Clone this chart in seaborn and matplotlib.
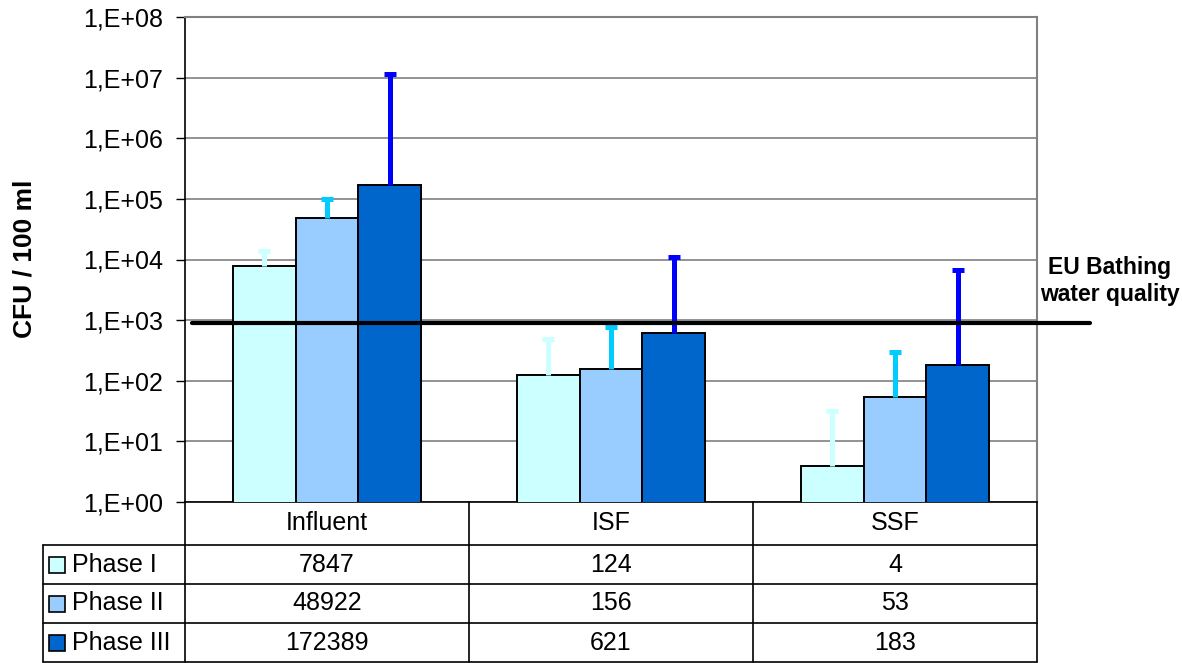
"""
Faecal indicator counts per treatment stage and phase, log scale with data table.
"""

import numpy as np
import pandas as pd
import matplotlib
matplotlib.use("Agg")
import matplotlib.pyplot as plt
from matplotlib.patches import Rectangle
from matplotlib.ticker import FixedLocator, FuncFormatter, NullLocator
import seaborn as sns


# ──────────────────────────────────────────────
# Data
# ──────────────────────────────────────────────

sites = ["Influent", "ISF", "SSF"]
phases = ["Phase I", "Phase II", "Phase III"]

phase1_cfu = [7847, 124, 4]
phase2_cfu = [48922, 156, 53]
phase3_cfu = [172389, 621, 183]

# upper end of the error bars
phase1_upper = [14000, 490, 32]
phase2_upper = [100000, 780, 300]
phase3_upper = [11500000, 11200, 6600]

eu_limit = 900
y_ticks = [10.0 ** k for k in range(0, 9)]

bar_colors = ["#CCFFFF", "#99CCFF", "#0066CC"]
err_colors = ["#CCFFFF", "#00CCFF", "#0000FF"]

values = [phase1_cfu, phase2_cfu, phase3_cfu]
uppers = [phase1_upper, phase2_upper, phase3_upper]

df = pd.DataFrame({
    "site": sites * len(phases),
    "phase": [p for p in phases for _ in sites],
    "cfu": phase1_cfu + phase2_cfu + phase3_cfu,
})


# ──────────────────────────────────────────────
# Figure
# ──────────────────────────────────────────────

sns.set_style("white")
plt.rcParams["font.family"] = ["Liberation Sans", "DejaVu Sans"]
plt.rcParams.update({"text.color": "black", "ytick.color": "black",
                     "xtick.color": "black", "axes.labelcolor": "black"})

W, H = 1182, 663
fig = plt.figure(figsize=(W / 100, H / 100), dpi=100)

# plot area in pixel coords: x 185..1037, y 17..502
ax = fig.add_axes([185 / W, (H - 502) / H, 852 / W, 485 / H])
ax.set_yscale("log")

sns.barplot(data=df, x="site", y="cfu", hue="phase", palette=bar_colors,
            saturation=1, width=0.665, gap=0, edgecolor="black", linewidth=1.4,
            errorbar=None, legend=False, ax=ax, zorder=3)

bar_containers = list(ax.containers)
for i, cont in enumerate(bar_containers):
    xs = [p.get_x() + p.get_width() / 2 for p in cont]
    ys = np.array(values[i], dtype=float)
    up = np.array(uppers[i], dtype=float) - ys
    eb = ax.errorbar(xs, ys, yerr=[np.zeros_like(ys), up], fmt="none",
                     ecolor=err_colors[i], elinewidth=3.6, capsize=4.5,
                     capthick=3.6, zorder=4)
    # only the upper cap is shown
    eb[1][0].set_visible(False)

ax.set_ylim(1, 1e8)
ax.set_xlim(-0.5, 2.5)
ax.yaxis.set_major_locator(FixedLocator(y_ticks))
ax.yaxis.set_minor_locator(NullLocator())
ax.yaxis.set_major_formatter(FuncFormatter(lambda v, _: "1,E+%02d" % round(np.log10(v))))
ax.tick_params(axis="y", which="major", left=True, length=6.5, width=1, pad=9,
               labelsize=18, color="black", labelcolor="black")
ax.tick_params(axis="x", bottom=False, labelbottom=False)
ax.set_xlabel("")
ax.set_ylabel("")
ax.grid(axis="y", color="#808080", linewidth=1.2, zorder=0)
ax.set_axisbelow(True)

for side in ["top", "right"]:
    ax.spines[side].set_color("#808080")
    ax.spines[side].set_linewidth(1.5)
ax.spines["left"].set_color("black")
ax.spines["left"].set_linewidth(1.2)
ax.spines["bottom"].set_color("black")
ax.spines["bottom"].set_linewidth(1.2)

# EU bathing water quality line
ax.plot([0.008, 1.062], [eu_limit, eu_limit], color="black", linewidth=3,
        transform=ax.get_yaxis_transform(), clip_on=False, zorder=5)
fig.text(1110 / W, 1 - 281 / H, "EU Bathing\nwater quality", ha="center",
         va="center", fontsize=16.5, fontweight="bold", linespacing=1.25)

fig.text(25 / W, 1 - 259 / H, "CFU / 100 ml", rotation=90, ha="center",
         va="center", fontsize=19, fontweight="bold")


# ──────────────────────────────────────────────
# Data table
# ──────────────────────────────────────────────

tab = fig.add_axes([0, 0, 1, 1])
tab.set_xlim(0, W)
tab.set_ylim(H, 0)
tab.axis("off")

col_edges = [185, 469, 753, 1037]
row_edges = [502, 545, 584, 623, 662]
line_kw = dict(color="black", linewidth=1.2, clip_on=False)

for x in col_edges:
    tab.plot([x, x], [row_edges[0], row_edges[-1]], **line_kw)
tab.plot([43, 43], [row_edges[1], row_edges[-1]], **line_kw)
for y in row_edges[1:]:
    tab.plot([43, col_edges[-1]], [y, y], **line_kw)

for j, site in enumerate(sites):
    cx = (col_edges[j] + col_edges[j + 1]) / 2
    tab.text(cx, (row_edges[0] + row_edges[1]) / 2, site, ha="center",
             va="center", fontsize=18)

for i, phase in enumerate(phases):
    cy = (row_edges[i + 1] + row_edges[i + 2]) / 2
    tab.add_patch(Rectangle((49, cy - 8), 16, 16, facecolor=bar_colors[i],
                            edgecolor="black", linewidth=1.2))
    tab.text(72, cy, phase, ha="left", va="center", fontsize=18)
    for j in range(len(sites)):
        cx = (col_edges[j] + col_edges[j + 1]) / 2
        tab.text(cx, cy, str(values[i][j]), ha="center", va="center", fontsize=18)

fig.savefig("out.png", dpi=100)
